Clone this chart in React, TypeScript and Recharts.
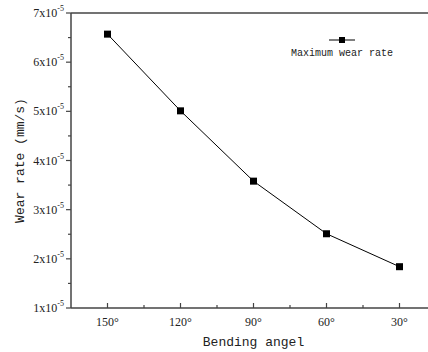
import { LineChart, Line, XAxis, YAxis, ReferenceLine } from "recharts";

const angles = [150, 120, 90, 60, 30];
const wearRate = [6.57e-5, 5.01e-5, 3.58e-5, 2.51e-5, 1.84e-5];
const xTicks = [150, 135, 120, 105, 90, 75, 60, 45, 30];
const yTicks = [1e-5, 1.5e-5, 2e-5, 2.5e-5, 3e-5, 3.5e-5, 4e-5, 4.5e-5, 5e-5, 5.5e-5, 6e-5, 6.5e-5, 7e-5];
const seriesName = "Maximum wear rate";

const data = angles.map((a, i) => ({ angle: a, rate: wearRate[i] }));

const AXIS = "#444";
const TEXT = "#222";
const serif = "'Liberation Serif', serif";
const mono = "'Liberation Mono', monospace";

function XTick({ x, y, payload }: any) {
  const major = payload.value % 30 === 0;
  return (
    <g>
      <line x1={x} y1={y} x2={x} y2={y - (major ? 5 : 3)} stroke={AXIS} strokeWidth={1.2} />
      {major && (
        <text x={x} y={y + 18} textAnchor="middle" fontSize={12} fontFamily={serif} fill={TEXT}>
          {payload.value}°
        </text>
      )}
    </g>
  );
}

function YTick({ x, y, payload }: any) {
  const m = Math.round(payload.value * 1e6) / 10;
  const major = Number.isInteger(m);
  return (
    <g>
      <line x1={x - (major ? 5 : 3)} y1={y} x2={x} y2={y} stroke={AXIS} strokeWidth={1.2} />
      {major && (
        <text x={x - 7} y={y + 4} textAnchor="end" fontSize={12} fontFamily={serif} fill={TEXT}>
          <tspan>{m}x10</tspan>
          <tspan dy={-6} fontSize={8}>-5</tspan>
        </text>
      )}
    </g>
  );
}

function SquareDot({ cx, cy }: any) {
  if (cx == null || cy == null) return null;
  return <rect x={cx - 3.5} y={cy - 3.5} width={7} height={7} fill="#000" />;
}

function YTitle({ viewBox }: any) {
  const cy = viewBox.y + viewBox.height / 2;
  return (
    <text x={24} y={cy} transform={`rotate(-90, 24, ${cy})`} textAnchor="middle" fontSize={13} fontFamily={mono} fill={TEXT}>
      Wear rate (mm/s)
    </text>
  );
}

function XTitle({ viewBox }: any) {
  const cx = viewBox.x + viewBox.width / 2;
  return (
    <text x={cx} y={346} textAnchor="middle" fontSize={13} fontFamily={mono} fill={TEXT}>
      Bending angel
    </text>
  );
}

export default function App() {
  return (
    <div style={{ position: "absolute", left: 0, top: 0, width: 428, height: 352, overflow: "hidden", background: "#fff" }}>
      <LineChart width={440} height={352} data={data} margin={{ top: 13, right: 4, bottom: 0, left: 0 }}>
        <XAxis
          dataKey="angle"
          type="number"
          domain={[15, 165]}
          reversed
          ticks={xTicks}
          interval={0}
          tickSize={0}
          tickMargin={0}
          tickLine={false}
          tick={<XTick />}
          height={44}
          axisLine={{ stroke: AXIS, strokeWidth: 1.5 }}
          label={<XTitle />}
          allowDataOverflow
        />
        <YAxis
          type="number"
          domain={[1e-5, 7e-5]}
          ticks={yTicks}
          interval={0}
          tickSize={0}
          tickMargin={0}
          tickLine={false}
          tick={<YTick />}
          width={71}
          axisLine={{ stroke: AXIS, strokeWidth: 1.5 }}
          label={<YTitle />}
          allowDataOverflow
        />
        <ReferenceLine y={7e-5} stroke={AXIS} strokeWidth={1.5} />
        <Line
          dataKey="rate"
          name={seriesName}
          type="linear"
          stroke="#000"
          strokeWidth={1}
          dot={<SquareDot />}
          activeDot={false}
          isAnimationActive={false}
        />
      </LineChart>
      <div style={{ position: "absolute", left: 282, top: 36, width: 120, textAlign: "center" }}>
        <svg width={26} height={8} style={{ display: "block", margin: "0 auto" }}>
          <line x1={0} y1={4} x2={26} y2={4} stroke="#000" strokeWidth={1} />
          <rect x={10} y={1} width={6} height={6} fill="#000" />
        </svg>
        <div style={{ fontFamily: mono, fontSize: 10, color: TEXT, marginTop: 4, lineHeight: "12px" }}>{seriesName}</div>
      </div>
    </div>
  );
}
